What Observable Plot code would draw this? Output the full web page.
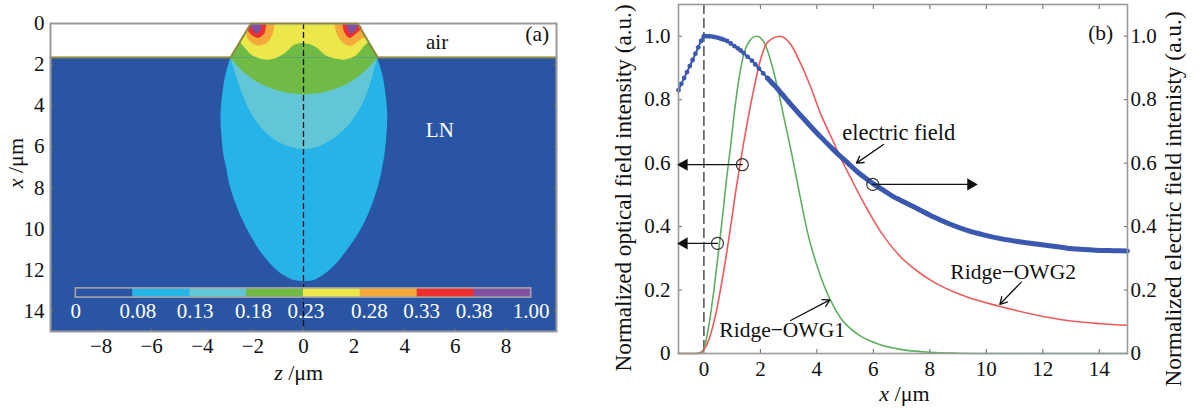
<!DOCTYPE html>
<html><head><meta charset="utf-8">
<script src="https://cdn.jsdelivr.net/npm/d3@7"></script>
<script src="https://cdn.jsdelivr.net/npm/@observablehq/plot@0.6"></script>
<style>
html,body{margin:0;padding:0;background:#fff;width:1200px;height:408px;overflow:hidden}
#a,#b{position:absolute;top:0}
#a{left:0}#b{left:600px}
svg{font-family:"Liberation Serif",serif;background:transparent}
</style></head><body><div id="a"></div><div id="b"></div>
<script>
// ---------- Panel (a): contour regions, [z, depth]
const skyZ=[-2.89,-3.08,-3.21,-3.28,-3.25,-3.17,-3.06,-2.95,-2.75,-2.49,-2.16,-1.77,-1.3,-.84,-.38,.08,.41,.8,1.26,1.73,2.12,2.52,2.78,2.98,3.11,3.2,3.28,3.31,3.24,3.11,2.91];
const skyD=[1.67,2.46,3.43,4.4,5.38,6.36,7.0,7.74,8.55,9.37,10.18,10.99,11.72,12.21,12.49,12.54,12.49,12.21,11.72,10.99,10.3,9.37,8.55,7.74,7.0,6.36,5.38,4.4,3.43,2.46,1.67];
const tealZ=[-2.89,-2.69,-2.42,-2.09,-1.63,-1.04,-.45,.08,.67,1.33,1.86,2.32,2.65,2.91];
const tealD=[1.67,2.46,3.43,4.33,5.14,5.74,6.03,6.11,5.95,5.46,4.81,3.92,2.86,1.67];
const greenZ=[-2.89,-2.36,-1.7,-.91,.01,.94,1.73,2.45,2.91];
const greenD=[1.67,2.37,2.94,3.3,3.45,3.3,2.94,2.29,1.67];
const greenTopZ=[-2.08,-2.88,2.94,2.14], greenTopD=[0,1.65,1.65,0];
const yellowZ=[-2.52,-2.4,-2.01,-1.49,-1.1,-.7,-.37,0,.49,.88,1.3,1.61,2.07,2.41,2.57];
const yellowD=[.9,1.07,1.56,1.76,1.68,1.4,1.04,.95,1.15,1.56,1.72,1.76,1.56,1.07,.9];
const yellowTopZ=[-2.08,-2.52,2.57,2.14], yellowTopD=[0,.9,.9,0];
const orangeLZ=[-2.08,-2.25,-2.08,-1.75,-1.42,-1.22,-1.14];
const orangeLD=[0,.585,.91,1.07,.91,.5,0];
const orangeRZ=[1.21,1.35,1.61,1.87,2.2,2.43,2.14];
const orangeRD=[0,.585,.99,1.1,.83,.6,0];
const redLZ=[-2.08,-2.2,-2.0,-1.78,-1.55,-1.5,-1.47];
const redLD=[0,.3,.6,.7,.49,.25,0];
const redRZ=[1.54,1.61,1.81,2.07,2.3,2.14];
const redRD=[0,.42,.7,.5,.2,0];
const purpleLZ=[-2.08,-2.04,-1.85,-1.68,-1.68];
const purpleLD=[0,.26,.5,.26,0];
const purpleRZ=[1.7,1.74,1.88,2.07,2.14];
const purpleRD=[0,.28,.5,.28,0];
const ridgeLeftZ=[-10,-2.88,-2.08], ridgeLeftD=[1.65,1.65,0];
const ridgeRightZ=[2.14,2.93,10], ridgeRightD=[0,1.65,1.65];

// colour bar
const barColors=["#2a55a4","#26b3e8","#62c6d6","#6fbb45","#ece74a","#f5a93a","#ee2e2f","#7e52a0"];
const barEdges=[-9,-6.75,-4.5,-2.25,0,2.25,4.5,6.75,9];
const barLabels=["0","0.08","0.13","0.18","0.23","0.28","0.33","0.38","1.00"];
const barLabelZ=[-9,-6.55,-4.28,-1.98,.09,2.6,4.67,6.74,9];

const zTicks=[-8,-6,-4,-2,0,2,4,6,8];
const depthTicks=[0,2,4,6,8,10,12,14];

// ---------- Panel (b): curves
const fieldX=[-.9,-.8,-.7,-.6,-.5,-.4,-.3,-.2,-.1,0,.1,.2,.3,.4,.5,.6,.7,.82,.95,1.08,1.2,1.3,1.41,1.55,1.7,1.82,1.95,2.1,2.25,2.42,2.6,2.8,3.0,3.43,3.8,4.14,4.5,4.8,5.1,5.44,5.75,6.03,6.4,6.74,6.96,7.55,8.14,8.7,9.32,9.9,10.5,11.1,11.68,12.3,12.87,13.5,14.05,14.5,15];
const fieldY=[.83,.85,.868,.887,.906,.925,.945,.965,.985,1.0,1.0,1.0,.999,.997,.995,.992,.989,.985,.977,.969,.962,.955,.947,.935,.923,.911,.898,.883,.868,.852,.835,.814,.793,.75,.714,.682,.65,.624,.6,.572,.551,.533,.512,.493,.483,.457,.43,.408,.388,.374,.362,.353,.346,.339,.332,.328,.325,.324,.323];
const owg1X=[-.9,-.3,-.13,0,.12,.23,.41,.55,.7,.77,.94,1.12,1.36,1.59,1.86,2.12,2.36,2.6,2.83,3.13,3.42,3.66,4.01,4.48,4.84,5.43,6.14,6.96,8,9,10,15];
const owg1Y=[0,0,.003,.015,.06,.12,.24,.347,.465,.525,.65,.79,.924,.982,1.0,.982,.924,.84,.745,.62,.488,.385,.275,.168,.112,.062,.031,.013,.004,.001,0,0];
const owg2X=[-.9,-.13,.01,.2,.41,.7,.94,1.1,1.41,1.77,2.0,2.24,2.68,3.07,3.42,3.78,4.13,4.48,4.84,5.19,5.55,5.66,6.25,6.96,7.55,8.14,9.32,10.5,11.68,12.87,14.05,15];
const owg2Y=[0,0,.013,.05,.12,.26,.395,.495,.665,.835,.925,.98,1.0,.975,.915,.84,.756,.688,.617,.555,.493,.475,.385,.305,.26,.225,.178,.148,.123,.104,.094,.089];
const fieldDotX=fieldX.filter(v=>v<=3);
const fieldDotY=fieldY.slice(0,fieldDotX.length);
const fieldThickX=fieldX.filter(v=>v>=2.25);
const fieldThickY=fieldY.slice(fieldX.length-fieldThickX.length);
const xTicks=[0,2,4,6,8,10,12,14];
const yTicks=[0,.2,.4,.6,.8,1];

const rows=(xs,ys)=>xs.map((x,i)=>({x,y:ys[i]}));
const poly=(xs,ys,fill)=>Plot.line(rows(xs,ys),{x:"x",y:"y",fill,stroke:"none",curve:"linear"});
const blob=(xs,ys,fill)=>Plot.line(rows(xs,ys),{x:"x",y:"y",fill,stroke:"none",curve:"catmull-rom"});
const FS=21, TEXT=21.5, TICK="#666", FRAME="#9a9a9a", OLIVE="#8c8a3c";
const black="#111";

const panelA=Plot.plot({
  width:600,height:408,marginLeft:50,marginRight:44,marginTop:23,marginBottom:77,
  style:{fontSize:FS+"px",background:"transparent"},
  x:{domain:[-10,10],axis:null},
  y:{domain:[15,0],axis:null},
  marks:[
    Plot.rect([{}],{x1:()=>-10,x2:()=>10,y1:()=>1.65,y2:()=>15,fill:barColors[0]}),
    blob(skyZ,skyD,barColors[1]),
    blob(tealZ,tealD,barColors[2]),
    blob(greenZ,greenD,barColors[3]),
    poly(greenTopZ,greenTopD,barColors[3]),
    blob(yellowZ,yellowD,barColors[4]),
    poly(yellowTopZ,yellowTopD,barColors[4]),
    blob(orangeLZ,orangeLD,barColors[5]),blob(orangeRZ,orangeRD,barColors[5]),
    blob(redLZ,redLD,barColors[6]),blob(redRZ,redRD,barColors[6]),
    blob(purpleLZ,purpleLD,barColors[7]),blob(purpleRZ,purpleRD,barColors[7]),
    Plot.line(rows(ridgeLeftZ,ridgeLeftD),{x:"x",y:"y",stroke:OLIVE,strokeWidth:2}),
    Plot.line(rows(ridgeRightZ,ridgeRightD),{x:"x",y:"y",stroke:OLIVE,strokeWidth:2}),
    Plot.ruleX([0],{y1:0,y2:15,stroke:"#111",strokeWidth:1.3,strokeDasharray:"6,3"}),
    Plot.rect(barColors,{x1:(d,i)=>barEdges[i],x2:(d,i)=>barEdges[i+1],y1:()=>12.9,y2:()=>13.35,fill:d=>d}),
    Plot.rect([{}],{x1:()=>-9,x2:()=>9,y1:()=>12.9,y2:()=>13.35,stroke:"#a5a5a5",strokeWidth:1.6,fill:"none"}),
    Plot.text(barLabels,{x:(d,i)=>barLabelZ[i],y:()=>14,text:d=>d,fill:"#fff",fontSize:FS}),
    Plot.axisX({ticks:zTicks,anchor:"bottom",tickSize:-4,tickPadding:11,stroke:TICK,fill:black,fontSize:FS,label:null,tickFormat:d=>d<0?"\u2212"+(-d):String(d)}),
    Plot.axisY({ticks:depthTicks,anchor:"left",tickSize:-4,tickPadding:10,stroke:TICK,fill:black,fontSize:FS,label:null,tickFormat:String}),
    Plot.axisY({ticks:depthTicks,anchor:"right",tickSize:-4,stroke:TICK,text:null,label:null}),
    Plot.frame({stroke:FRAME,strokeWidth:2}),
    Plot.line(rows([-2.08,2.14],[0,0]),{x:"x",y:"y",stroke:OLIVE,strokeWidth:1.5}),
    Plot.text(["(a)"],{x:()=>9.24,y:()=>.54,text:d=>d,fontSize:TEXT,fill:black}),
    Plot.text(["air"],{x:()=>5.28,y:()=>.91,text:d=>d,fontSize:FS,fill:black}),
    Plot.text(["LN"],{x:()=>5.39,y:()=>5.22,text:d=>d,fontSize:FS,fill:"#fff"}),
    Plot.text(["z /\u03bcm"],{x:()=>-.19,y:()=>17,text:d=>d,fontSize:22,fill:black}),
    Plot.text(["x /\u03bcm"],{x:()=>-11.37,y:()=>6.8,text:d=>d,rotate:-90,fontSize:22,fill:black})
  ]
});

const arrow=(x1,y1,x2,y2)=>Plot.arrow([{}],{x1:()=>x1,y1:()=>y1,x2:()=>x2,y2:()=>y2,stroke:"#111",strokeWidth:1.3,headLength:9});
const pointer=(xs,y,rot)=>[
  Plot.line(rows(xs,[y,y]),{x:"x",y:"y",stroke:"#111",strokeWidth:1.3}),
  Plot.dot([{}],{x:()=>xs[1],y:()=>y,symbol:"triangle",r:4.5,rotate:rot,fill:"#111",stroke:"none"})
];
const panelB=Plot.plot({
  width:600,height:408,marginLeft:78,marginRight:73,marginTop:4,marginBottom:55,
  style:{fontSize:FS+"px",background:"transparent"},
  x:{domain:[-.9,15],axis:null},
  y:{domain:[0,1.1],axis:null},
  marks:[
    Plot.ruleX([0],{stroke:"#222",strokeWidth:1.2,strokeDasharray:"10,4"}),
    Plot.line(rows(owg1X,owg1Y),{x:"x",y:"y",stroke:"#5cb060",strokeWidth:1.6,curve:"monotone-x"}),
    Plot.line(rows(owg2X,owg2Y),{x:"x",y:"y",stroke:"#ef5a5a",strokeWidth:1.6,curve:"monotone-x"}),
    Plot.line(rows(fieldX,fieldY),{x:"x",y:"y",stroke:"#3a58b0",strokeWidth:2,curve:"monotone-x"}),
    Plot.line(rows(fieldThickX,fieldThickY),{x:"x",y:"y",stroke:"#3a58b0",strokeWidth:5,curve:"monotone-x"}),
    Plot.dot(rows(fieldDotX,fieldDotY),{x:"x",y:"y",r:2.4,fill:"#3a58b0",stroke:"none"}),
    Plot.axisX({ticks:xTicks,anchor:"bottom",tickSize:-4,tickPadding:12,stroke:TICK,fill:black,fontSize:FS,label:null,tickFormat:String}),
    Plot.axisX({ticks:xTicks,anchor:"top",tickSize:-4,stroke:TICK,text:null,label:null}),
    Plot.axisY({ticks:yTicks,anchor:"left",tickSize:-4,tickPadding:12,stroke:TICK,fill:black,fontSize:FS,label:null,tickFormat:d=>d===0?"0":d.toFixed(1)}),
    Plot.axisY({ticks:yTicks,anchor:"right",tickSize:-4,tickPadding:7,stroke:TICK,fill:black,fontSize:FS,label:null,tickFormat:d=>d===0?"0":d.toFixed(1)}),
    Plot.frame({stroke:FRAME,strokeWidth:1.6}),
    ...pointer([1.36,-.7],.595,-90),
    ...pointer([.48,-.7],.347,-90),
    ...pointer([5.98,9.45],.533,90),
    Plot.dot([[1.36,.595],[.48,.347],[5.98,.533]],{x:d=>d[0],y:d=>d[1],r:6,stroke:"#333",strokeWidth:1.2,fill:"none"}),
    arrow(6.36,.659,5.4,.6),
    arrow(3.07,.104,4.46,.169),
    arrow(11.24,.225,10.48,.155),
    Plot.text(["electric field"],{x:()=>6.9,y:()=>.697,text:d=>d,fontSize:22.5,fill:black}),
    Plot.text(["Ridge\u2212OWG1"],{x:()=>2.77,y:()=>.075,text:d=>d,fontSize:TEXT,fill:black}),
    Plot.text(["Ridge\u2212OWG2"],{x:()=>10.95,y:()=>.257,text:d=>d,fontSize:TEXT,fill:black}),
    Plot.text(["(b)"],{x:()=>14.05,y:()=>1.01,text:d=>d,fontSize:TEXT,fill:black}),
    Plot.text(["x /\u03bcm"],{x:()=>7.1,y:()=>-.126,text:d=>d,fontSize:22,fill:black}),
    Plot.text(["Normalized optical field intensity (a.u.)"],{x:()=>-2.85,y:()=>.522,text:d=>d,rotate:-90,fontSize:23.2,fill:black}),
    Plot.text(["Normalized electric field intenisty (a.u.)"],{x:()=>16.63,y:()=>.487,text:d=>d,rotate:-90,fontSize:23.4,fill:black})
  ]
});
document.getElementById("a").append(panelA);
document.getElementById("b").append(panelB);
// italic variable names in the axis titles
document.querySelectorAll("svg text").forEach(t=>{
  const m=/^([xz]) \/\u03bcm$/.exec(t.textContent);
  if(!m) return;
  const tgt=t.querySelector("tspan")||t;
  tgt.textContent="";
  const i=document.createElementNS("http://www.w3.org/2000/svg","tspan");
  i.setAttribute("font-style","italic");i.textContent=m[1];
  tgt.append(i,document.createTextNode(" /\u03bcm"));
});
</script></body></html>
